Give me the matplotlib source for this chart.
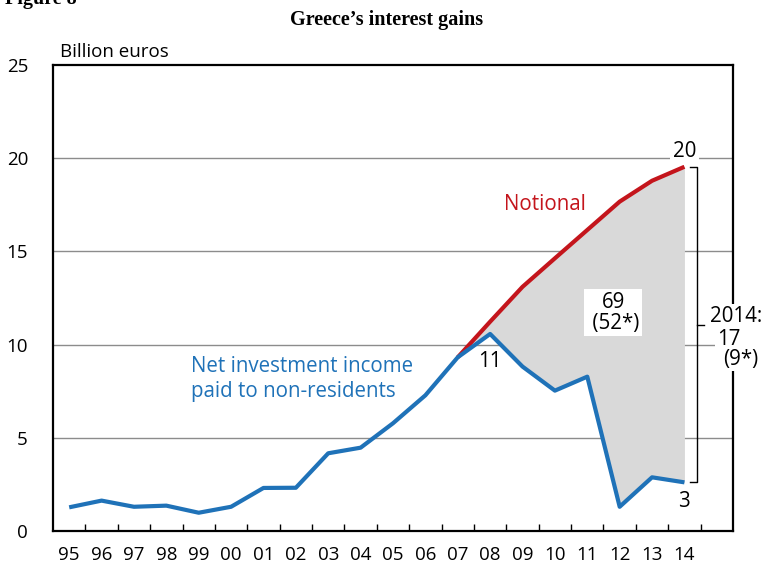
import matplotlib
matplotlib.use("Agg")
import matplotlib.pyplot as plt
import numpy as np

years = ["95", "96", "97", "98", "99", "00", "01", "02", "03", "04",
         "05", "06", "07", "08", "09", "10", "11", "12", "13", "14"]
net_income = [1.27, 1.63, 1.30, 1.36, 0.98, 1.30, 2.31, 2.32, 4.17, 4.47,
              5.78, 7.28, 9.32, 10.57, 8.82, 7.53, 8.28, 1.30, 2.88, 2.61]
notional_years = ["07", "08", "09", "10", "11", "12", "13", "14"]
notional = [9.32, 11.23, 13.1, 14.63, 16.15, 17.67, 18.79, 19.54]

BLUE = "#1f72b8"
RED = "#c4151c"
FONT = ["Open Sans", "DejaVu Sans"]
plt.rcParams["font.family"] = FONT
FS = 13.5
FA = 14.8

fig = plt.figure(figsize=(7.64, 5.65), dpi=100)
ax = fig.add_axes([53/764, 34/565, 680/764, 466/565])

x = np.arange(len(years))
xn = np.array([years.index(y) for y in notional_years])
blue_sub = np.array(net_income)[xn]

ax.fill_between(xn, blue_sub, notional, color="#d9d9d9", lw=0, zorder=1)
ax.plot(xn, notional, color=RED, lw=3, solid_capstyle="butt", zorder=3)
ax.plot(x, net_income, color=BLUE, lw=3, solid_capstyle="butt", zorder=4)

ax.set_xlim(-0.5, 20.5)
ax.set_ylim(0, 25)
ax.set_yticks([0, 5, 10, 15, 20, 25])
ax.set_yticklabels(["0", "5", "10", "15", "20", "25"], fontsize=FS)
ax.set_xticks(x)
ax.set_xticklabels(years, fontsize=FS)
ax.set_xticks(np.arange(0.5, 20, 1), minor=True)
ax.tick_params(axis="x", which="major", length=0, pad=11)
ax.tick_params(axis="x", which="minor", direction="in", length=5, width=1)
ax.tick_params(axis="y", length=0, pad=18)
for yv in [5, 10, 15, 20]:
    ax.axhline(yv, color="#8c8c8c", lw=1, zorder=0)
for s in ax.spines.values():
    s.set_linewidth(1.6)
    s.set_color("black")

# annotations
ax.text(19, 20.35, "20", ha="center", va="center", fontsize=FA,
        bbox=dict(facecolor="white", edgecolor="none", pad=2), zorder=5)
ax.text(19, 1.6, "3", ha="center", va="center", fontsize=FA, zorder=5)
ax.text(13, 9.1, "11", ha="center", va="center", fontsize=FA, zorder=5)
ax.text(14.7, 17.5, "Notional", ha="center", va="center", fontsize=FA,
        color=RED, zorder=5)
ax.text(3.76, 8.15, "Net investment income\npaid to non-residents",
        ha="left", va="center", fontsize=FA, color=BLUE,
        linespacing=1.3, zorder=5)
ax.text(16.8, 11.7, "69\n (52*)", ha="center", va="center", fontsize=FA,
        linespacing=0.95,
        bbox=dict(facecolor="white", edgecolor="none", pad=2), zorder=5)

# bracket
bx = 19.39
ax.plot([19.17, bx, bx, 19.17], [19.54, 19.54, 2.61, 2.61],
        color="black", lw=1, zorder=5, clip_on=False)
ax.plot([bx, 19.6], [11.05, 11.05], color="black", lw=1, zorder=5,
        clip_on=False)
ax.text(19.79, 11.53, "2014:", ha="left", va="center", fontsize=FA,
        bbox=dict(facecolor="white", edgecolor="none", pad=1),
        zorder=6, clip_on=False)
ax.text(20.0, 10.25, "17", ha="left", va="center", fontsize=FA,
        bbox=dict(facecolor="white", edgecolor="none", pad=1),
        zorder=6, clip_on=False)
ax.text(20.19, 9.2, "(9*)", ha="left", va="center", fontsize=FA,
        bbox=dict(facecolor="white", edgecolor="none", pad=1),
        zorder=6, clip_on=False)

fig.text(60/764, 1 - 52/565, "Billion euros", ha="left", va="center",
         fontsize=FS)
fig.text(387/764, 1 - 20/565, "Greece\u2019s interest gains", ha="center",
         va="center", fontsize=14.5, fontweight="bold",
         family=["Liberation Serif", "DejaVu Serif"])
fig.text(5/764, 1 - 4/565, "Figure 8", ha="left", va="baseline",
         fontsize=14.5, fontweight="bold",
         family=["Liberation Serif", "DejaVu Serif"])

fig.savefig("out.png", dpi=100)
